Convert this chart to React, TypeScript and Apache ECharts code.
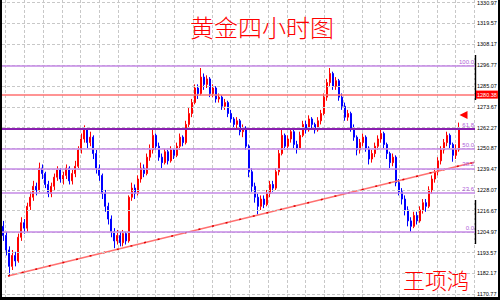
import React, { useEffect, useRef } from "react";
import * as echarts from "echarts";

// ---- data ----
const firstOpen = 1208;
const closes = [
  1203, 1195, 1186, 1192, 1189, 1202, 1210, 1207, 1219, 1224,
  1230, 1228, 1240, 1237, 1231, 1226, 1230, 1235, 1239, 1234,
  1236, 1240, 1233, 1237, 1241, 1250, 1256, 1261, 1254, 1257,
  1248, 1240, 1236, 1226, 1219, 1212, 1205, 1200, 1203, 1199,
  1204, 1200, 1224, 1229, 1226, 1234, 1240, 1237, 1246, 1250,
  1258, 1252, 1246, 1243, 1249, 1244, 1250, 1247, 1252, 1257,
  1254, 1264, 1270, 1276, 1284, 1281, 1290, 1286, 1289, 1281,
  1284, 1278, 1279, 1274, 1276, 1270, 1267, 1264, 1266, 1260,
  1262, 1252, 1238, 1230, 1224, 1219, 1223, 1220, 1226, 1231,
  1229, 1238, 1248, 1258, 1252, 1256, 1260, 1253, 1251, 1258,
  1264, 1261, 1267, 1264, 1261, 1266, 1270, 1279, 1287, 1292,
  1285, 1288, 1279, 1274, 1268, 1270, 1262, 1257, 1250, 1254,
  1257, 1251, 1245, 1248, 1252, 1256, 1259, 1253, 1248, 1243,
  1246, 1232, 1227, 1223, 1217, 1211, 1208, 1214, 1211, 1217,
  1221, 1219, 1228, 1234, 1238, 1244, 1250, 1254, 1258, 1253,
  1247, 1250, 1262.04,
];
const highs = [
  1211, 1205, 1197, 1195, 1194, 1204, 1213, 1212, 1221, 1227,
  1233, 1232, 1243, 1242, 1238, 1233, 1232, 1237, 1241, 1240,
  1238, 1242, 1241, 1239, 1244, 1252, 1259, 1263.5, 1262, 1260,
  1258, 1250, 1242, 1237, 1228, 1221, 1214, 1207, 1206, 1205,
  1206, 1205, 1225, 1232, 1231, 1236, 1243, 1242, 1248, 1253,
  1261, 1259, 1254, 1248, 1251, 1250, 1252, 1251, 1254, 1259,
  1258, 1266, 1273, 1278, 1286, 1286, 1295, 1292, 1291, 1290,
  1286, 1285, 1281, 1280, 1278, 1277, 1272, 1268, 1268, 1267,
  1264, 1263, 1253, 1240, 1232, 1226, 1225, 1225, 1228, 1233,
  1233, 1240, 1250, 1262, 1259, 1258, 1262, 1261, 1255, 1260,
  1266, 1266, 1269, 1268, 1265, 1268, 1272, 1281, 1289, 1295,
  1293, 1290, 1289, 1281, 1276, 1272, 1271, 1264, 1258, 1256,
  1259, 1258, 1252, 1250, 1254, 1258, 1261, 1260, 1254, 1249,
  1248, 1247, 1234, 1229, 1225, 1219, 1213, 1216, 1216, 1219,
  1223, 1223, 1230, 1236, 1240, 1246, 1252, 1256, 1260, 1259,
  1254, 1253, 1265,
];
const lows = [
  1200, 1192, 1181, 1184, 1186, 1188, 1200, 1204, 1205, 1217,
  1222, 1225, 1227, 1234, 1229, 1224, 1224, 1228, 1233, 1232,
  1231, 1234, 1231, 1231, 1235, 1240, 1248, 1254, 1251, 1252,
  1245, 1237, 1233, 1223, 1216, 1209, 1202, 1196, 1198, 1197,
  1197, 1198, 1199, 1222, 1223, 1225, 1232, 1235, 1236, 1244,
  1248, 1250, 1244, 1240, 1242, 1242, 1243, 1245, 1246, 1250,
  1252, 1253, 1262, 1268, 1275, 1278, 1280, 1283, 1284, 1279,
  1279, 1276, 1276, 1272, 1272, 1268, 1265, 1262, 1262, 1258,
  1257, 1250, 1235, 1227, 1221, 1214.5, 1217, 1218, 1219, 1224,
  1227, 1228, 1236, 1247, 1250, 1250, 1254, 1251, 1248, 1250,
  1257, 1259, 1260, 1262, 1259, 1260, 1264, 1269, 1277, 1285,
  1283, 1283, 1277, 1272, 1266, 1266, 1260, 1255, 1247, 1248,
  1252, 1249, 1242, 1243, 1246, 1250, 1254, 1251, 1245, 1240,
  1241, 1230, 1225, 1220, 1214, 1208, 1205, 1207, 1209, 1210,
  1215, 1216, 1218, 1226, 1232, 1236, 1242, 1248, 1252, 1251,
  1243.5, 1245, 1249,
];
const emptySlots = 5;

const gridTicks = [
  1330.97, 1319.57, 1308.17, 1296.77, 1285.07, 1273.67, 1262.27, 1250.87,
  1239.47, 1228.07, 1216.67, 1204.97, 1193.57, 1182.17, 1170.77,
];
const gridTickLabels = [
  "1330.97", "1319.57", "1308.17", "1296.77", "1285.07", "1273.67", "1262.27", "1250.87",
  "1239.47", "1228.07", "1216.67", "1204.97", "1193.57", "1182.17", "1170.77",
];

const fibLow = 1204.9;
const fibHigh = 1296.3;
const fibLevels = [0, 23.6, 38.2, 50, 61.8, 100];
const fibLabels = ["0.0", "23.6", "38.2", "50.0", "61.8", "100.0"];

const redLevel = 1280.38;
const redLevelLabel = "1280.38";
const lastPrice = 1262.04;
const lastPriceLabel = "1262.04";

const trendX = [0.133, 25];
const trendY = [1180.7, 1243.24];
const arrowPoint = [153, 1269.2];

const yMin = 1169.17;
const yMax = 1332.37;

const FONT = "Arial, 'Liberation Sans', sans-serif";

export default function App() {
  const ref = useRef<HTMLDivElement>(null);

  useEffect(() => {
    if (!ref.current) return;
    const chart = echarts.init(ref.current, undefined, { renderer: "svg" });

    const opens = closes.map((c, i) => (i === 0 ? firstOpen : closes[i - 1]));
    const candleData = closes.map((c, i) => [opens[i], c, lows[i], highs[i]]);
    const cats = Array.from({ length: closes.length + emptySlots }, (_, i) => String(i));

    const fibLines = fibLevels.map((lv, i) => {
      const v = fibLow + ((fibHigh - fibLow) * lv) / 100;
      const strong = lv === 61.8;
      return {
        yAxis: v,
        lineStyle: {
          color: strong ? "#8a1fb0" : "#c488e6",
          width: strong ? 2 : 1.5,
          type: "solid",
        },
        label: {
          show: true,
          position: "insideEndTop",
          formatter: fibLabels[i],
          color: "#b060d8",
          fontSize: 6,
          fontFamily: FONT,
          distance: 1,
        },
      };
    });

    const tagLabel = (text: string, bg: string) => ({
      show: true,
      position: "end",
      distance: 1,
      formatter: text,
      color: "#ffffff",
      backgroundColor: bg,
      padding: [1, 1, 1, 1],
      fontSize: 5.5,
      fontFamily: FONT,
    });

    const option: any = {
      animation: false,
      backgroundColor: "#ffffff",
      title: [
        {
          text: "黄金四小时图",
          left: 183,
          top: 9,
          textStyle: {
            color: "#ff0000",
            fontSize: 24,
            fontWeight: 300,
            fontFamily: "Noto Sans CJK SC",
          },
        },
        {
          text: "王项鸿",
          left: 401,
          top: 266,
          padding: 0,
          textStyle: {
            color: "#ff0000",
            fontSize: 22,
            lineHeight: 26,
            fontWeight: 300,
            fontFamily: "Noto Sans CJK SC",
          },
        },
      ],
      grid: [
        { left: 0, top: 0, width: 473, height: 297 },
        { left: 3.5, top: 0, width: 468.75, height: 297 },
      ],
      xAxis: [
        {
          type: "category",
          gridIndex: 0,
          data: cats,
          boundaryGap: true,
          axisLine: { show: false },
          axisTick: { show: false },
          axisLabel: { show: false },
          splitLine: { show: false },
        },
        {
          type: "value",
          gridIndex: 1,
          min: 0,
          max: 25,
          interval: 1,
          axisLine: { show: false },
          axisTick: { show: false },
          axisLabel: { show: false },
          splitLine: { show: true, lineStyle: { color: "#c8c8c8", type: [3, 2], width: 1 } },
        },
      ],
      yAxis: [
        {
          type: "value",
          gridIndex: 0,
          position: "right",
          min: yMin,
          max: yMax,
          axisLine: { show: false },
          axisTick: { show: false },
          axisLabel: { show: false },
          splitLine: { show: false },
        },
        { type: "value", gridIndex: 1, min: yMin, max: yMax, show: false },
      ],
      graphic: [
        { type: "rect", shape: { x: 472.6, y: 55, width: 1.6, height: 45 }, style: { fill: "#000" } },
        { type: "rect", shape: { x: 472.6, y: 200, width: 1.6, height: 44 }, style: { fill: "#000" } },
      ],
      series: [
        {
          type: "line",
          xAxisIndex: 0,
          yAxisIndex: 0,
          data: [],
          z: 1,
          markLine: {
            silent: true,
            symbol: ["none", "none"],
            animation: false,
            lineStyle: { color: "#c8c8c8", type: [3, 2], width: 1 },
            label: {
              show: true,
              position: "end",
              distance: 2,
              fontSize: 5.5,
              color: "#000",
              fontFamily: FONT,
            },
            data: gridTicks.map((v, i) => ({ yAxis: v, label: { formatter: gridTickLabels[i] } })),
          },
        },
        {
          type: "candlestick",
          xAxisIndex: 0,
          yAxisIndex: 0,
          z: 2,
          barWidth: 1.5,
          data: candleData,
          itemStyle: {
            color: "#ff0000",
            color0: "#0000ff",
            borderColor: "#ff0000",
            borderColor0: "#0000ff",
            borderWidth: 1,
          },
          markPoint: {
            silent: true,
            animation: false,
            label: { show: false },
            data: [
              {
                coord: arrowPoint,
                symbol: "triangle",
                symbolSize: [8, 8],
                symbolRotate: 90,
                symbolOffset: [2, 0],
                itemStyle: { color: "#ff0000" },
              },
            ],
          },
        },
        {
          type: "line",
          xAxisIndex: 0,
          yAxisIndex: 0,
          data: [],
          z: 3,
          markLine: {
            silent: true,
            symbol: ["none", "none"],
            animation: false,
            data: [
              ...fibLines,
              {
                yAxis: redLevel,
                lineStyle: { color: "#ff7070", width: 1.5, type: "solid" },
                label: tagLabel(redLevelLabel, "#ff0000"),
              },
              {
                yAxis: lastPrice,
                lineStyle: { opacity: 0 },
                label: tagLabel(lastPriceLabel, "#000000"),
              },
            ],
          },
        },
        {
          type: "line",
          xAxisIndex: 1,
          yAxisIndex: 1,
          z: 3,
          symbol: "none",
          silent: true,
          lineStyle: { color: "#ff7070", width: 1.5 },
          data: trendX.map((x, i) => [x, trendY[i]]),
        },
        {
          type: "line",
          xAxisIndex: 1,
          yAxisIndex: 1,
          z: 4,
          symbol: "none",
          silent: true,
          lineStyle: { color: "#e00000", width: 1.5, type: [2, 12] },
          data: trendX.map((x, i) => [x, trendY[i]]),
        },
      ],
    };

    chart.setOption(option);
    return () => chart.dispose();
  }, []);

  return (
    <div
      style={{
        position: "fixed",
        left: 0,
        top: 0,
        width: 500,
        height: 300,
        background: "#000",
        overflow: "hidden",
      }}
    >
      <div
        ref={ref}
        style={{ position: "absolute", left: 2, top: 0, width: 496, height: 297, background: "#fff" }}
      />
    </div>
  );
}
